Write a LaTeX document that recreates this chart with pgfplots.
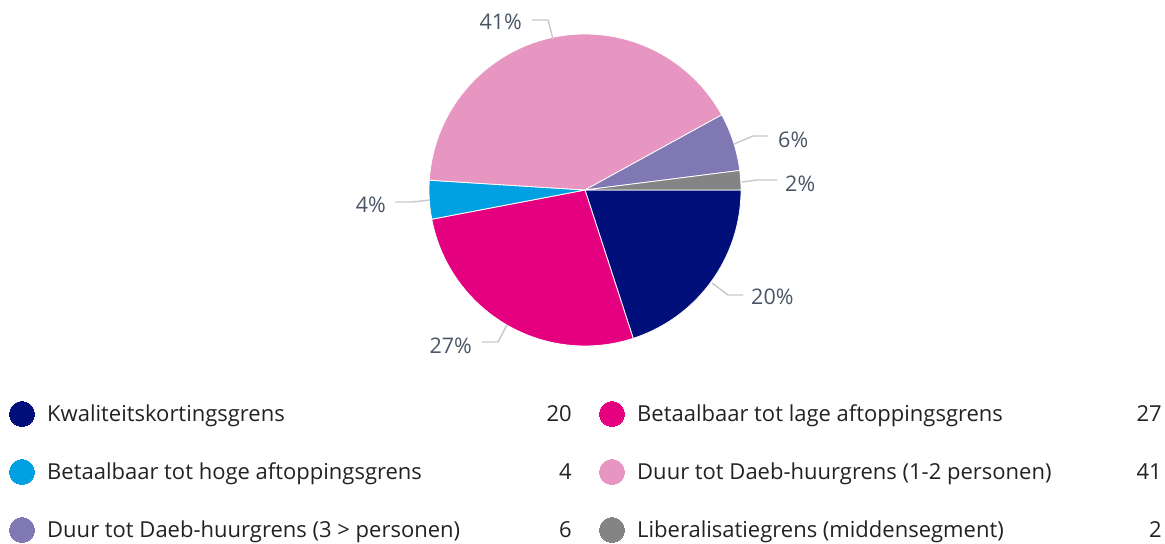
\documentclass[border=0pt]{standalone}
\usepackage{pgfplots}
\pgfplotsset{compat=1.18}
\usepackage{fontspec}
\setmainfont{Open Sans}
\definecolor{cA}{HTML}{000F7A}
\definecolor{cB}{HTML}{E4007F}
\definecolor{cC}{HTML}{00A0E2}
\definecolor{cD}{HTML}{E795C1}
\definecolor{cE}{HTML}{8078B3}
\definecolor{cF}{HTML}{848484}
\definecolor{lbl}{HTML}{4A5565}
\definecolor{lead}{HTML}{C8C8C8}
\definecolor{legtxt}{HTML}{222222}
\begin{document}
\begin{tikzpicture}
\begin{axis}[width=1165bp,height=544bp,scale only axis,
  xmin=0,xmax=1165,ymin=0,ymax=544,hide axis,clip=false]
% pie slices, values in percent, clockwise from 0 degrees
\gdef\acc{0}
\foreach \v/\c in {20/cA,27/cB,4/cC,41/cD,6/cE,2/cF}{
  \pgfmathsetmacro\sa{\acc}
  \pgfmathsetmacro\ea{\acc-3.6*\v}
  \edef\temp{\noexpand\fill[\c,draw=white,line width=0.8bp] (axis cs:585,354) -- ++(\sa:156bp) arc[start angle=\sa,end angle=\ea,radius=156bp] -- cycle;}
  \temp
  \xdef\acc{\ea}
}
% leader lines
\begin{scope}[lead,line width=1.4bp]
\draw (axis cs:553,505) -- (axis cs:548,524) -- (axis cs:532,524);
\draw (axis cs:734,400) -- (axis cs:753,408) -- (axis cs:768,408);
\draw (axis cs:742,362) -- (axis cs:757,364) -- (axis cs:777,364);
\draw (axis cs:430,344) -- (axis cs:412,342) -- (axis cs:395,342);
\draw (axis cs:712,261) -- (axis cs:728,249) -- (axis cs:743,249);
\draw (axis cs:507,219) -- (axis cs:498,202) -- (axis cs:482,202);
\end{scope}
% percentage labels
\begin{scope}[every node/.style={text=lbl,font=\fontsize{21.5bp}{25bp}\selectfont,inner sep=0pt}]
\node[anchor=base east] at (axis cs:522,514.3) {41\%};
\node[anchor=base west] at (axis cs:778,396.3) {6\%};
\node[anchor=base west] at (axis cs:785,352.3) {2\%};
\node[anchor=base east] at (axis cs:386,331.3) {4\%};
\node[anchor=base west] at (axis cs:751,239.3) {20\%};
\node[anchor=base east] at (axis cs:472,190.3) {27\%};
\end{scope}
% legend markers
\addplot[cA,only marks,mark=*,mark size=12.5,mark options={fill=cA,draw=cA,line width=0pt}] coordinates {(22,130)};
\addplot[cC,only marks,mark=*,mark size=12.5,mark options={fill=cC,draw=cC,line width=0pt}] coordinates {(22,72)};
\addplot[cE,only marks,mark=*,mark size=12.5,mark options={fill=cE,draw=cE,line width=0pt}] coordinates {(22,14)};
\addplot[cB,only marks,mark=*,mark size=12.5,mark options={fill=cB,draw=cB,line width=0pt}] coordinates {(612,130)};
\addplot[cD,only marks,mark=*,mark size=12.5,mark options={fill=cD,draw=cD,line width=0pt}] coordinates {(612,72)};
\addplot[cF,only marks,mark=*,mark size=12.5,mark options={fill=cF,draw=cF,line width=0pt}] coordinates {(612,14)};
% legend texts
\begin{scope}[every node/.style={text=legtxt,font=\fontsize{22bp}{26bp}\selectfont,inner sep=0pt}]
\node[anchor=base west] at (axis cs:47,122.1) {Kwaliteitskortingsgrens};
\node[anchor=base east] at (axis cs:572,122.1) {20};
\node[anchor=base west] at (axis cs:47,64.1) {Betaalbaar tot hoge aftoppingsgrens};
\node[anchor=base east] at (axis cs:572,64.1) {4};
\node[anchor=base west] at (axis cs:47,6.1) {Duur tot Daeb-huurgrens (3 > personen)};
\node[anchor=base east] at (axis cs:572,6.1) {6};
\node[anchor=base west] at (axis cs:637,122.1) {Betaalbaar tot lage aftoppingsgrens};
\node[anchor=base east] at (axis cs:1162,122.1) {27};
\node[anchor=base west] at (axis cs:637,64.1) {Duur tot Daeb-huurgrens (1-2 personen)};
\node[anchor=base east] at (axis cs:1162,64.1) {41};
\node[anchor=base west] at (axis cs:637,6.1) {Liberalisatiegrens (middensegment)};
\node[anchor=base east] at (axis cs:1162,6.1) {2};
\end{scope}
\end{axis}
\pgfresetboundingbox
\path (0,0) rectangle (1165bp,544bp);
\end{tikzpicture}
\end{document}
